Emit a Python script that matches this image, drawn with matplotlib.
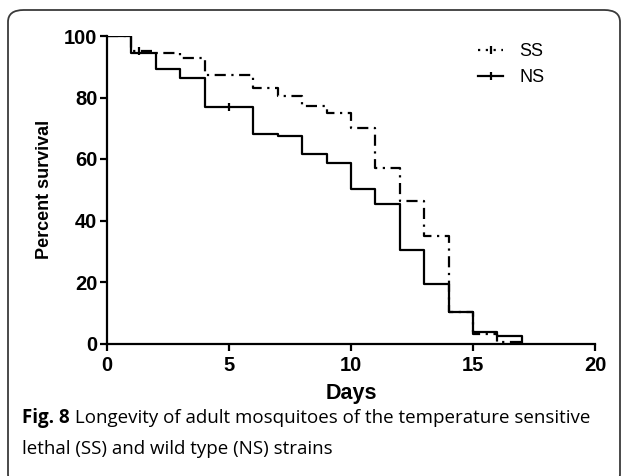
import matplotlib.pyplot as plt
from matplotlib.patches import FancyBboxPatch
from matplotlib.lines import Line2D

# survival data (percent), step value on interval [day, day+1)
days = [0, 1, 2, 3, 4, 5, 6, 7, 8, 9, 10, 11, 12, 13, 14, 15, 16, 17]
ss_surv = [100, 95.0, 94.4, 93.0, 87.4, 87.4, 83.0, 80.6, 77.2, 75.0,
           70.2, 57.2, 46.3, 35.1, 10.4, 3.2, 0.6, 0]
ns_surv = [100, 94.4, 89.3, 86.4, 76.8, 76.8, 68.0, 67.4, 61.5, 58.8,
           50.3, 45.4, 30.3, 19.3, 10.4, 3.8, 2.6, 0]

# censored observations
ns_cens_x = [5]
ns_cens_y = [76.8]
ss_cens_x = [1.3]
ss_cens_y = [95.0]

caption_bold = "Fig. 8"
caption_rest = " Longevity of adult mosquitoes of the temperature sensitive"
caption_line2 = "lethal (SS) and wild type (NS) strains"

W, H = 627, 476
fig = plt.figure(figsize=(W / 100, H / 100), dpi=100)

# rounded frame around figure + caption
frame = FancyBboxPatch((8 / W, -10 / H), 612 / W, H / H,
                       boxstyle="round,pad=0,rounding_size=0.025",
                       transform=fig.transFigure, facecolor='none',
                       edgecolor='#3a3a3a', linewidth=1.3, zorder=0)
fig.patches.append(frame)

ax = fig.add_axes([107 / W, 1 - 343.5 / H, (595 - 107) / W, (343.5 - 36) / H])
ax.patch.set_alpha(0)

ax.step(days, ss_surv, where='post', color='black', lw=1.6,
        linestyle=(0, (5, 2.5, 1, 2.5)), label='SS')
ax.step(days, ns_surv, where='post', color='black', lw=1.6, label='NS')
ax.plot(ss_cens_x, ss_cens_y, linestyle='none', marker='|', ms=6, mew=1.6, color='black')
ax.plot(ns_cens_x, ns_cens_y, linestyle='none', marker='|', ms=6, mew=1.6, color='black')

ax.set_xlim(0, 20)
ax.set_ylim(0, 100)
ax.set_xticks([0, 5, 10, 15, 20])
ax.set_yticks([0, 20, 40, 60, 80, 100])
for s in ['top', 'right']:
    ax.spines[s].set_visible(False)
for s in ['left', 'bottom']:
    ax.spines[s].set_linewidth(1.6)
ax.tick_params(width=1.6, length=5, direction='out', pad=2)
ax.tick_params(axis='x', pad=4)
for lab in ax.get_xticklabels() + ax.get_yticklabels():
    lab.set_fontfamily('Liberation Sans')
    lab.set_fontweight('bold')
    lab.set_fontsize(14.5)

ax.set_xlabel('Days', fontfamily='Liberation Sans', fontweight='bold', fontsize=15.5, labelpad=6)
ax.set_ylabel('Percent survival', fontfamily='Liberation Sans', fontweight='bold', fontsize=13, labelpad=8)

h_ss = Line2D([], [], color='black', lw=1.6, linestyle=(0, (1, 2.5)), marker='|', ms=6, mew=1.6)
h_ns = Line2D([], [], color='black', lw=1.6, marker='|', ms=6, mew=1.6)
ax.legend([h_ss, h_ns], ['SS', 'NS'], loc='upper right', bbox_to_anchor=(0.93, 1.03),
          frameon=False, handlelength=1.4, handletextpad=0.9, labelspacing=0.5,
          prop={'family': 'Liberation Sans', 'size': 13})

# caption
t1 = fig.text(22 / W, 1 - 423 / H, caption_bold, fontfamily='Open Sans',
              fontweight='bold', fontsize=13.5, va='baseline')
fig.canvas.draw()
bb = t1.get_window_extent()
fig.text(bb.x1 / W, 1 - 423 / H, caption_rest, fontfamily='Open Sans',
         fontsize=13.5, va='baseline')
fig.text(22 / W, 1 - 454 / H, caption_line2, fontfamily='Open Sans',
         fontsize=13.5, va='baseline')

fig.savefig('out.png', dpi=100)
